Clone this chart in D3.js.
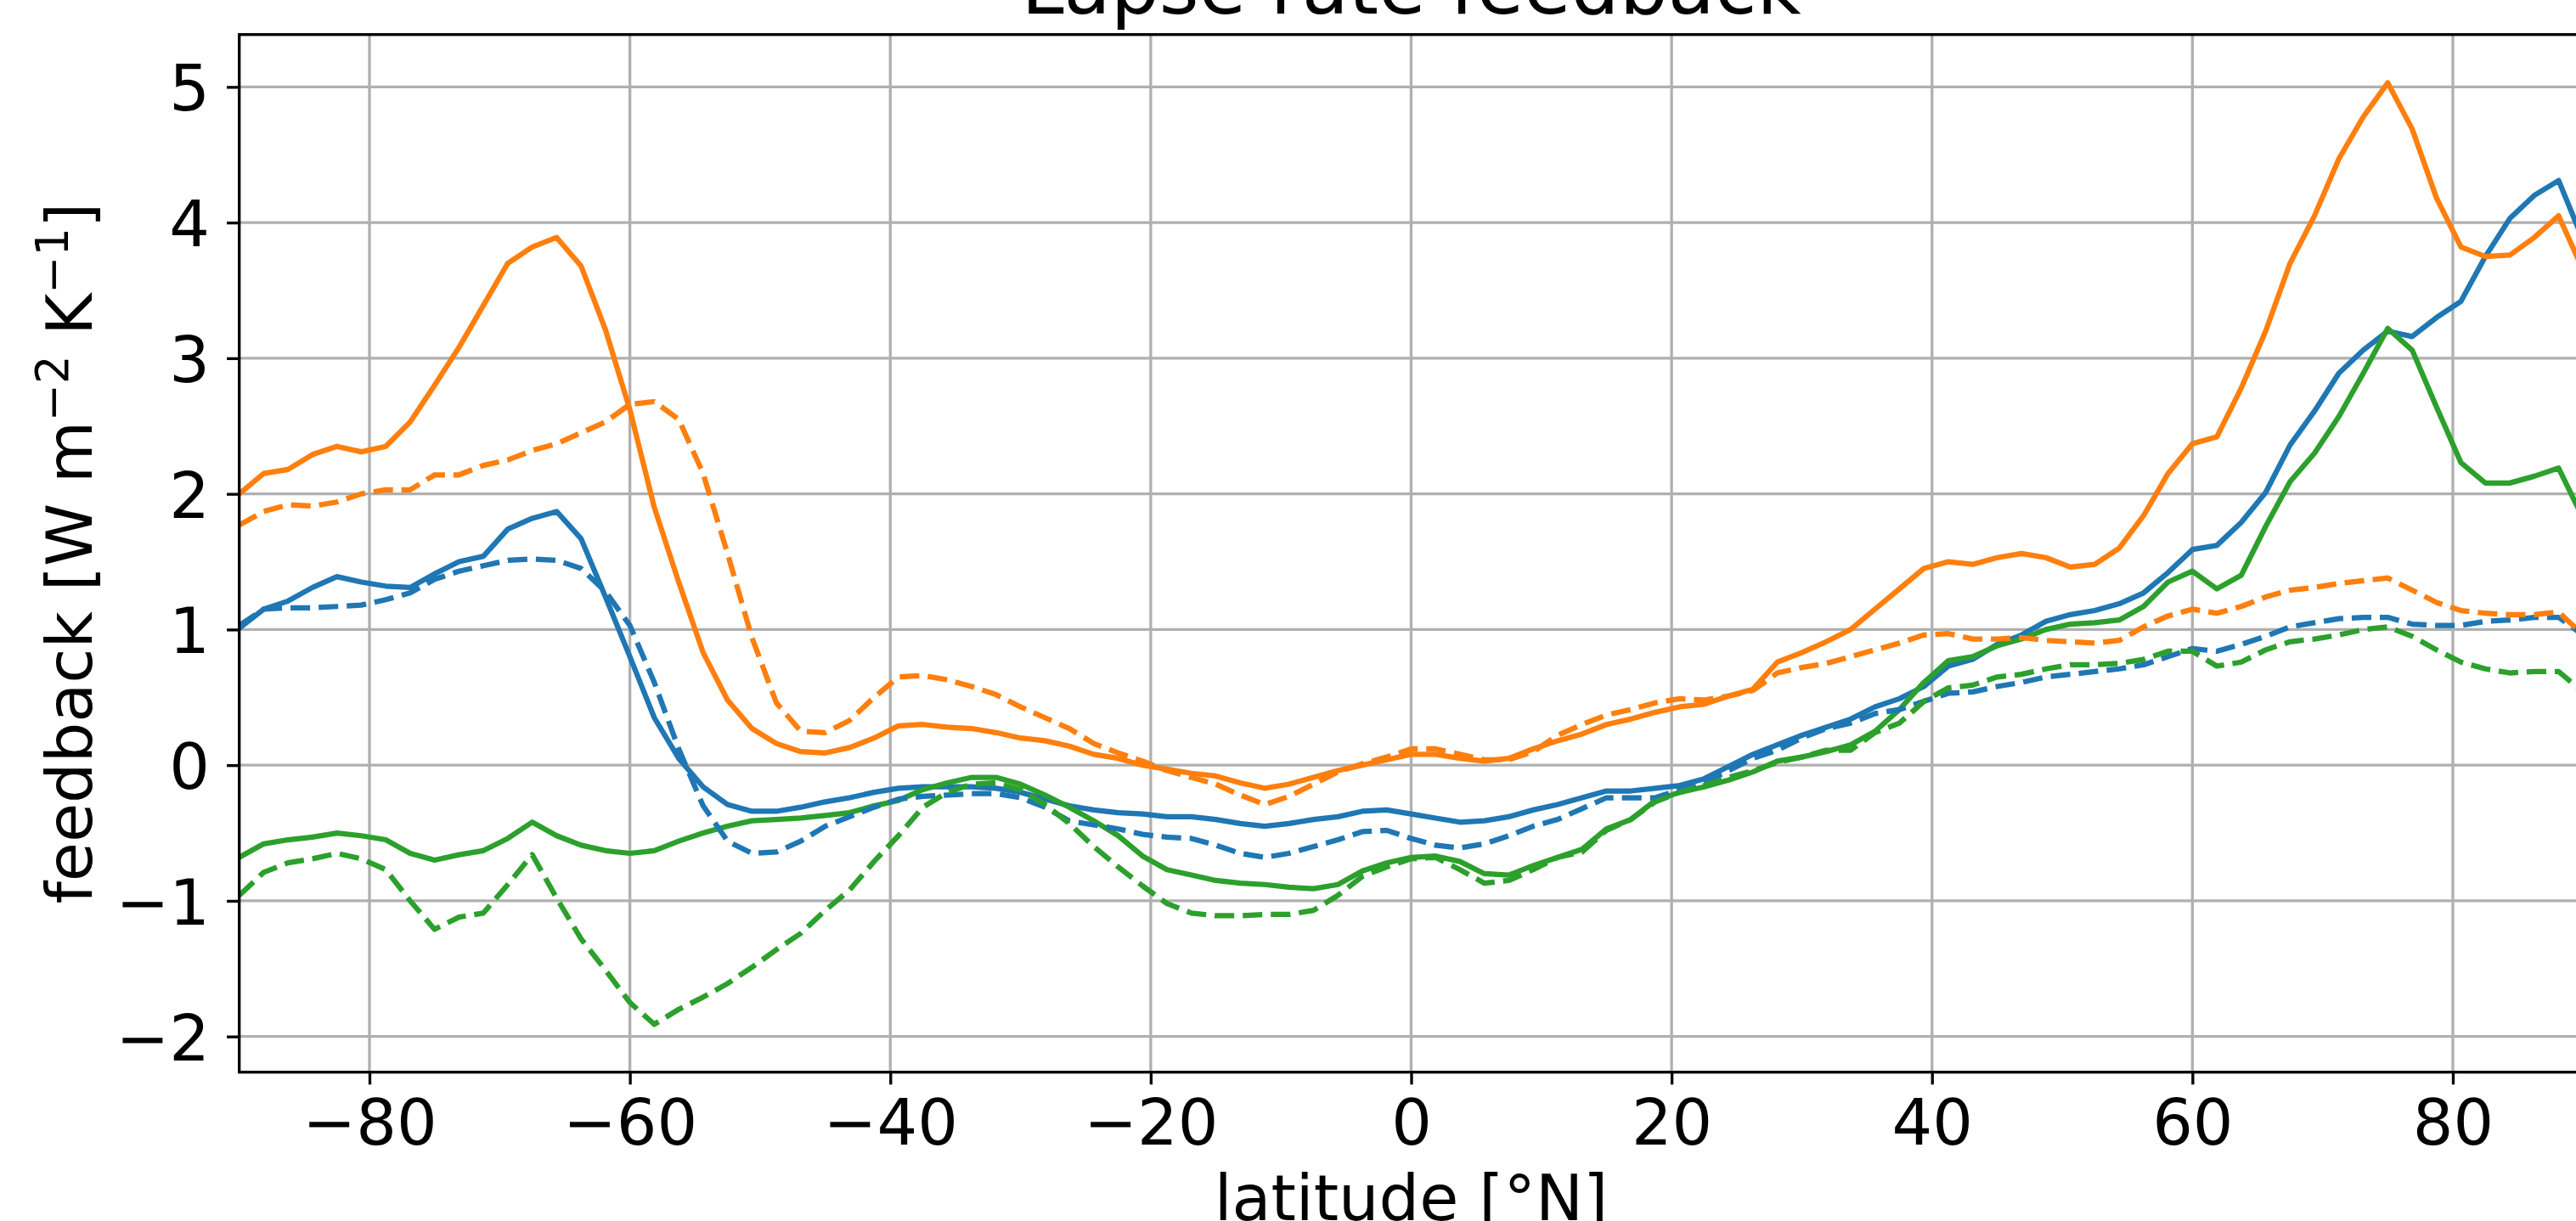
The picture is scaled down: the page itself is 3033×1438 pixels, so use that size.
<!DOCTYPE html>
<html>
<head>
<meta charset="utf-8">
<script src="https://cdn.jsdelivr.net/npm/d3@7"></script>
<style>
  html, body { margin: 0; padding: 0; background: #fff; }
  svg { display: block; }
  text { font-family: "DejaVu Sans", sans-serif; fill: #000; }
</style>
</head>
<body>
<script>
// ---------------- data ----------------
const latitudes = [-90,-88.125,-86.25,-84.375,-82.5,-80.625,-78.75,-76.875,-75,-73.125,-71.25,-69.375,-67.5,-65.625,-63.75,-61.875,-60,-58.125,-56.25,-54.375,-52.5,-50.625,-48.75,-46.875,-45,-43.125,-41.25,-39.375,-37.5,-35.625,-33.75,-31.875,-30,-28.125,-26.25,-24.375,-22.5,-20.625,-18.75,-16.875,-15,-13.125,-11.25,-9.375,-7.5,-5.625,-3.75,-1.875,0,1.875,3.75,5.625,7.5,9.375,11.25,13.125,15,16.875,18.75,20.625,22.5,24.375,26.25,28.125,30,31.875,33.75,35.625,37.5,39.375,41.25,43.125,45,46.875,48.75,50.625,52.5,54.375,56.25,58.125,60,61.875,63.75,65.625,67.5,69.375,71.25,73.125,75,76.875,78.75,80.625,82.5,84.375,86.25,88.125,90];

const blueSolid = [1.01,1.15,1.21,1.31,1.39,1.35,1.32,1.31,1.41,1.50,1.54,1.74,1.82,1.87,1.67,1.24,0.80,0.35,0.05,-0.16,
  -0.29,-0.34,-0.34,-0.31,-0.27,-0.24,-0.20,-0.17,-0.16,-0.16,-0.16,-0.17,-0.20,-0.25,-0.30,-0.33,-0.35,-0.36,
  -0.38,-0.38,-0.40,-0.43,-0.45,-0.43,-0.40,-0.38,-0.34,-0.33,-0.36,-0.39,-0.42,-0.41,-0.38,-0.33,-0.29,-0.24,-0.19,
  -0.19,-0.17,-0.15,-0.10,-0.01,0.08,0.15,0.22,0.28,0.34,0.43,0.49,0.58,0.73,0.78,0.89,0.96,1.06,
  1.11,1.14,1.19,1.27,1.42,1.59,1.62,1.79,2.01,2.36,2.61,2.89,3.06,3.20,3.16,3.30,3.42,3.75,4.03,4.20,4.31,3.87];

const orangeSolid = [2.00,2.15,2.18,2.29,2.35,2.31,2.35,2.53,2.80,3.08,3.39,3.70,3.82,3.89,3.68,3.21,2.62,1.90,1.35,0.83,
  0.48,0.27,0.16,0.10,0.09,0.13,0.20,0.29,0.30,0.28,0.27,0.24,0.20,0.18,0.14,0.08,0.05,0.00,
  -0.03,-0.06,-0.08,-0.13,-0.17,-0.14,-0.09,-0.04,0.00,0.04,0.08,0.08,0.05,0.03,0.05,0.12,0.18,0.23,0.30,
  0.34,0.39,0.43,0.45,0.51,0.56,0.76,0.83,0.91,1.00,1.15,1.30,1.45,1.50,1.48,1.53,1.56,1.53,
  1.46,1.48,1.60,1.84,2.15,2.37,2.42,2.78,3.20,3.70,4.05,4.47,4.78,5.03,4.69,4.18,3.82,3.75,3.76,3.89,4.05,3.65];

const greenSolid = [-0.68,-0.58,-0.55,-0.53,-0.50,-0.52,-0.55,-0.65,-0.70,-0.66,-0.63,-0.54,-0.42,-0.52,-0.59,-0.63,-0.65,-0.63,-0.56,-0.50,
  -0.45,-0.41,-0.40,-0.39,-0.37,-0.35,-0.30,-0.26,-0.18,-0.13,-0.09,-0.09,-0.14,-0.22,-0.31,-0.41,-0.52,-0.67,
  -0.77,-0.81,-0.85,-0.87,-0.88,-0.90,-0.91,-0.88,-0.78,-0.72,-0.68,-0.67,-0.71,-0.80,-0.81,-0.74,-0.68,-0.62,-0.47,
  -0.40,-0.26,-0.20,-0.16,-0.11,-0.05,0.03,0.06,0.10,0.15,0.25,0.41,0.61,0.77,0.80,0.88,0.93,1.00,
  1.04,1.05,1.07,1.17,1.35,1.43,1.30,1.40,1.76,2.09,2.30,2.57,2.89,3.22,3.06,2.64,2.23,2.08,2.08,2.13,2.19,1.82];

const blueDashed = [1.03,1.15,1.16,1.16,1.17,1.18,1.22,1.27,1.37,1.43,1.47,1.51,1.52,1.51,1.45,1.28,1.03,0.61,0.12,-0.30,
  -0.56,-0.65,-0.64,-0.56,-0.45,-0.38,-0.31,-0.25,-0.23,-0.22,-0.21,-0.21,-0.24,-0.31,-0.41,-0.44,-0.47,-0.51,
  -0.53,-0.54,-0.59,-0.65,-0.68,-0.65,-0.60,-0.55,-0.49,-0.48,-0.54,-0.59,-0.61,-0.58,-0.52,-0.45,-0.40,-0.32,-0.24,
  -0.24,-0.24,-0.18,-0.13,-0.04,0.05,0.11,0.20,0.27,0.31,0.38,0.41,0.47,0.53,0.54,0.58,0.61,0.65,
  0.67,0.69,0.71,0.74,0.80,0.86,0.84,0.89,0.95,1.02,1.05,1.08,1.09,1.09,1.04,1.03,1.03,1.06,1.07,1.09,1.09,0.96];

const orangeDashed = [1.77,1.87,1.92,1.91,1.94,2.00,2.03,2.03,2.14,2.14,2.21,2.25,2.32,2.37,2.45,2.53,2.66,2.68,2.55,2.15,
  1.56,0.94,0.46,0.25,0.24,0.33,0.50,0.65,0.66,0.63,0.58,0.52,0.43,0.35,0.27,0.16,0.09,0.03,
  -0.04,-0.09,-0.14,-0.22,-0.29,-0.23,-0.14,-0.05,0.01,0.06,0.12,0.12,0.08,0.04,0.04,0.10,0.22,0.30,0.37,
  0.41,0.46,0.49,0.48,0.51,0.55,0.68,0.72,0.75,0.80,0.85,0.90,0.96,0.97,0.93,0.93,0.94,0.92,
  0.91,0.90,0.92,1.02,1.10,1.15,1.12,1.17,1.24,1.29,1.31,1.34,1.36,1.38,1.29,1.20,1.14,1.12,1.11,1.11,1.13,0.96];

const greenDashed = [-0.96,-0.79,-0.72,-0.69,-0.65,-0.69,-0.77,-1.00,-1.21,-1.12,-1.09,-0.88,-0.66,-0.98,-1.28,-1.51,-1.75,-1.91,-1.80,-1.71,
  -1.61,-1.49,-1.36,-1.24,-1.07,-0.92,-0.71,-0.52,-0.31,-0.20,-0.14,-0.13,-0.18,-0.29,-0.43,-0.60,-0.75,-0.89,
  -1.02,-1.09,-1.11,-1.11,-1.10,-1.10,-1.07,-0.96,-0.82,-0.75,-0.69,-0.68,-0.77,-0.87,-0.85,-0.77,-0.68,-0.64,-0.48,
  -0.40,-0.27,-0.20,-0.15,-0.09,-0.04,0.02,0.06,0.11,0.11,0.24,0.31,0.47,0.57,0.59,0.65,0.67,0.71,
  0.74,0.74,0.75,0.78,0.84,0.84,0.73,0.76,0.85,0.91,0.93,0.96,1.00,1.02,0.95,0.85,0.76,0.71,0.68,0.69,0.69,0.54];

const xTicks = [-80, -60, -40, -20, 0, 20, 40, 60, 80];
const yTicks = [-2, -1, 0, 1, 2, 3, 4, 5];
const titleText = "Lapse rate feedback";
const xLabelText = "latitude [°N]";

const series = [
  { values: blueSolid,    color: "#1f77b4", dashed: false },
  { values: orangeSolid,  color: "#ff7f0e", dashed: false },
  { values: greenSolid,   color: "#2ca02c", dashed: false },
  { values: blueDashed,   color: "#1f77b4", dashed: true },
  { values: orangeDashed, color: "#ff7f0e", dashed: true },
  { values: greenDashed,  color: "#2ca02c", dashed: true }
];

// ---------------- layout ----------------
const W = 3033, H = 1438;
const axL = 281.7, axR = 3041.3, axT = 40.7, axB = 1262.7;
const fs = 75;           // tick / label font size
const gridW = 3.33, lineW = 6.25, tickLen = 14.6;

const x = d3.scaleLinear().domain([-90, 90]).range([axL, axR]);
const y = d3.scaleLinear().domain([-2.263, 5.386]).range([axB, axT]);

const svg = d3.select("body").append("svg")
  .attr("width", W).attr("height", H)
  .attr("viewBox", `0 0 ${W} ${H}`);

svg.append("rect").attr("width", W).attr("height", H).attr("fill", "#fff");

svg.append("defs").append("clipPath").attr("id", "axclip")
  .append("rect").attr("x", axL).attr("y", axT)
  .attr("width", axR - axL).attr("height", axB - axT);

// grid
const grid = svg.append("g");
grid.selectAll("line.gx").data(xTicks).join("line").attr("class", "gx")
  .attr("x1", d => x(d)).attr("x2", d => x(d))
  .attr("y1", axT).attr("y2", axB)
  .attr("stroke", "#b0b0b0").attr("stroke-width", gridW);
grid.selectAll("line.gy").data(yTicks).join("line").attr("class", "gy")
  .attr("x1", axL).attr("x2", axR)
  .attr("y1", d => y(d)).attr("y2", d => y(d))
  .attr("stroke", "#b0b0b0").attr("stroke-width", gridW);

// lines
const lineGen = d3.line().x((d, i) => x(latitudes[i])).y(d => y(d));
const lines = svg.append("g").attr("clip-path", "url(#axclip)");
series.forEach(s => {
  lines.append("path")
    .attr("d", lineGen(s.values))
    .attr("fill", "none")
    .attr("stroke", s.color)
    .attr("stroke-width", lineW)
    .attr("stroke-linejoin", "round")
    .attr("stroke-linecap", s.dashed ? "butt" : "square")
    .attr("stroke-dasharray", s.dashed ? "23.1,10" : null);
});

// axes via d3 axis generators
const fmt = d => (d < 0 ? "\u2212" + Math.abs(d) : String(d));
const xAxis = d3.axisBottom(x).tickValues(xTicks).tickFormat(fmt)
  .tickSize(tickLen).tickPadding(tickLen);
const yAxis = d3.axisLeft(y).tickValues(yTicks).tickFormat(fmt)
  .tickSize(tickLen).tickPadding(tickLen);

const gx = svg.append("g").attr("transform", `translate(0,${axB})`).call(xAxis);
const gy = svg.append("g").attr("transform", `translate(${axL},0)`).call(yAxis);
[gx, gy].forEach(g => {
  g.select(".domain").remove();
  g.selectAll(".tick line").attr("stroke", "#000").attr("stroke-width", gridW);
  g.selectAll(".tick text")
    .attr("font-family", "DejaVu Sans").attr("font-size", fs).attr("fill", "#000");
});
gx.selectAll(".tick text").attr("dy", null).attr("y", 1348 - axB);
gy.selectAll(".tick text").attr("dy", null).attr("y", 27.5).attr("x", -(axL - 247));

// spines
svg.append("rect").attr("x", axL).attr("y", axT)
  .attr("width", axR - axL).attr("height", axB - axT)
  .attr("fill", "none").attr("stroke", "#000").attr("stroke-width", gridW);

// title
const cx = (axL + axR) / 2;
svg.append("text").attr("x", cx).attr("y", 16)
  .attr("text-anchor", "middle").attr("font-size", 90).text(titleText);

// x label
svg.append("text").attr("x", cx).attr("y", 1437)
  .attr("text-anchor", "middle").attr("font-size", fs).text(xLabelText);

// y label with superscripts
const yl = svg.append("text")
  .attr("transform", `translate(108,${(axT + axB) / 2}) rotate(-90)`)
  .attr("text-anchor", "middle").attr("font-size", fs);
yl.append("tspan").text("feedback [W m");
yl.append("tspan").attr("dy", -28).attr("font-size", 52.5).text("\u22122");
yl.append("tspan").attr("dy", 28).text(" K");
yl.append("tspan").attr("dy", -28).attr("font-size", 52.5).text("\u22121");
yl.append("tspan").attr("dy", 28).text("]");
</script>
</body>
</html>
